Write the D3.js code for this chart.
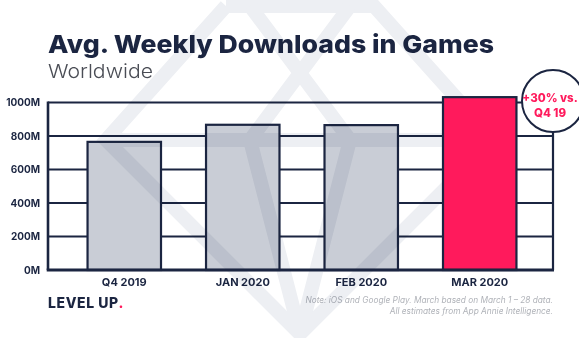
<!DOCTYPE html>
<html>
<head>
<meta charset="utf-8">
<script src="https://cdn.jsdelivr.net/npm/d3@7"></script>
<style>
  html, body { margin: 0; padding: 0; background: #fff; }
  svg { display: block; font-family: Inter, "Open Sans", sans-serif; }
</style>
</head>
<body>
<div id="chart"></div>
<script>
// values (millions of downloads per week)
const categories = ['Q4 2019', 'JAN 2020', 'FEB 2020', 'MAR 2020'];
const downloads = [765, 867, 865, 1032];
const yTicks = [0, 200, 400, 600, 800, 1000];
const highlight = 'MAR 2020';
const calloutLines = ['+30% vs.', 'Q4 19'];
const noteLines = [
  'Note: iOS and Google Play. March based on March 1 \u2013 28 data.',
  'All estimates from App Annie Intelligence.'
];

const navy = '#1b2541';
const pink = '#ff1a5c';
const grey = '#c9cdd6';

const W = 579, H = 338;
const plot = { left: 48, right: 552, top: 102.5, bottom: 270 };

const svg = d3.select('#chart').append('svg')
  .attr('width', W)
  .attr('height', H);

const x = d3.scaleBand()
  .domain(categories)
  .range([52, 552])
  .paddingInner(0.38)
  .paddingOuter(0.3);

const y = d3.scaleLinear()
  .domain([0, 1000])
  .range([plot.bottom, plot.top]);

const data = categories.map((c, i) => ({ cat: c, value: downloads[i] }));

// titles
svg.append('text')
  .attr('x', 48).attr('y', 53)
  .attr('font-size', 25).attr('font-weight', 800)
  .attr('fill', navy)
  .attr('textLength', 446).attr('lengthAdjust', 'spacingAndGlyphs')
  .text('Avg. Weekly Downloads in Games');

svg.append('text')
  .attr('x', 48).attr('y', 78)
  .attr('font-size', 19).attr('font-weight', 300)
  .attr('fill', '#4a4d55')
  .attr('textLength', 105).attr('lengthAdjust', 'spacingAndGlyphs')
  .text('Worldwide');

// gridlines
svg.append('g')
  .selectAll('line')
  .data(yTicks.filter(d => d > 0))
  .enter().append('line')
    .attr('x1', plot.left).attr('x2', plot.right)
    .attr('y1', d => y(d)).attr('y2', d => y(d))
    .attr('stroke', navy).attr('stroke-width', 2.2);

// left and right borders
svg.append('line')
  .attr('x1', plot.left).attr('x2', plot.left)
  .attr('y1', plot.top - 1).attr('y2', plot.bottom)
  .attr('stroke', navy).attr('stroke-width', 2.6);
svg.append('line')
  .attr('x1', plot.right + 1).attr('x2', plot.right + 1)
  .attr('y1', 120).attr('y2', plot.bottom)
  .attr('stroke', navy).attr('stroke-width', 2.2);

// grey bars
svg.append('g')
  .selectAll('rect')
  .data(data.filter(d => d.cat !== highlight))
  .enter().append('rect')
    .attr('x', d => x(d.cat))
    .attr('y', d => y(d.value))
    .attr('width', x.bandwidth())
    .attr('height', d => plot.bottom - y(d.value))
    .attr('fill', grey)
    .attr('stroke', navy)
    .attr('stroke-width', 2.2);

// y tick labels
svg.append('g')
  .selectAll('text')
  .data(yTicks)
  .enter().append('text')
    .attr('x', 40)
    .attr('y', d => y(d))
    .attr('dy', '0.35em')
    .attr('text-anchor', 'end')
    .attr('font-size', 10).attr('font-weight', 700)
    .attr('fill', navy)
    .text(d => d + 'M');

// x labels
svg.append('g')
  .selectAll('text')
  .data(categories)
  .enter().append('text')
    .attr('x', d => x(d) + x.bandwidth() / 2)
    .attr('y', 286)
    .attr('text-anchor', 'middle')
    .attr('font-size', 11).attr('font-weight', 700)
    .attr('fill', navy)
    .text(d => d);

// footer
const brand = svg.append('text')
  .attr('x', 48).attr('y', 308)
  .attr('font-size', 14).attr('font-weight', 800)
  .attr('letter-spacing', 0.6)
  .attr('fill', navy);
brand.append('tspan').text('LEVEL UP');
brand.append('tspan').attr('fill', pink).text('.');

svg.append('g')
  .selectAll('text')
  .data(noteLines)
  .enter().append('text')
    .attr('x', 553)
    .attr('y', (d, i) => 303 + i * 11)
    .attr('text-anchor', 'end')
    .attr('font-size', 8.3).attr('font-style', 'italic')
    .attr('fill', '#b0b3b9')
    .text(d => d);

// faint gem watermark, multiplied over everything drawn so far
const gem = [
  [[226, 6], [374, 6], [494, 140], [300, 334], [106, 140], [226, 6]],
  [[106, 140], [494, 140]],
  [[250, 6], [350, 140], [300, 334], [250, 140], [350, 6]]
];
svg.append('g')
  .style('mix-blend-mode', 'multiply')
  .style('pointer-events', 'none')
  .selectAll('path')
  .data(gem)
  .enter().append('path')
    .attr('d', d3.line())
    .attr('fill', 'none')
    .attr('stroke', '#edeff3')
    .attr('stroke-width', 14)
    .attr('stroke-linejoin', 'miter');

// highlighted bar sits above the watermark
svg.append('g')
  .selectAll('rect')
  .data(data.filter(d => d.cat === highlight))
  .enter().append('rect')
    .attr('x', d => x(d.cat))
    .attr('y', d => y(d.value))
    .attr('width', x.bandwidth())
    .attr('height', d => plot.bottom - y(d.value))
    .attr('fill', pink)
    .attr('stroke', navy)
    .attr('stroke-width', 2.2);

// bottom axis line
svg.append('line')
  .attr('x1', plot.left - 1.3).attr('x2', plot.right + 2)
  .attr('y1', plot.bottom).attr('y2', plot.bottom)
  .attr('stroke', navy).attr('stroke-width', 3);

// callout circle
const cx = 553, cy = 101;
svg.append('circle')
  .attr('cx', cx).attr('cy', cy).attr('r', 31)
  .attr('fill', '#fff')
  .attr('stroke', navy).attr('stroke-width', 2);
svg.append('g')
  .selectAll('text')
  .data(calloutLines)
  .enter().append('text')
    .attr('x', cx - 3)
    .attr('y', (d, i) => 102 + i * 15)
    .attr('text-anchor', 'middle')
    .attr('font-size', 11.5).attr('font-weight', 800)
    .attr('fill', pink)
    .text(d => d);
</script>
</body>
</html>
